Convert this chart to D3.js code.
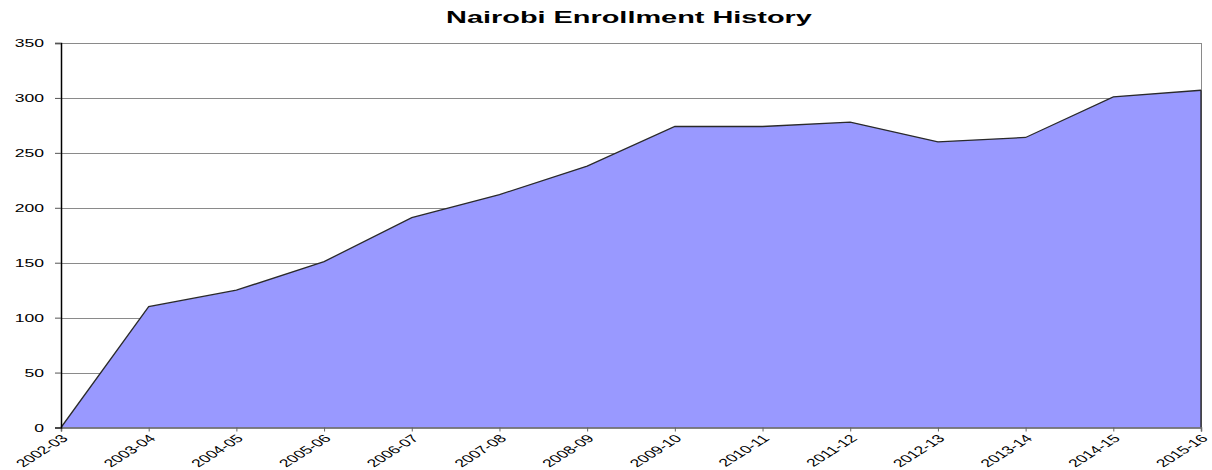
<!DOCTYPE html>
<html>
<head>
<meta charset="utf-8">
<script src="https://cdn.jsdelivr.net/npm/d3@7"></script>
<style>
  body { margin: 0; background: #fff; }
  text { font-family: "Liberation Sans", Arial, sans-serif; fill: #000; }
</style>
</head>
<body>
<div class="chart"></div>
<script>
// data
const years = ['2002-03','2003-04','2004-05','2005-06','2006-07','2007-08','2008-09',
	'2009-10','2010-11','2011-12','2012-13','2013-14','2014-15','2015-16'];
const enrollment = [0, 110, 125, 151, 191, 212, 238, 274, 274, 278, 260, 264, 301, 307];
const yTicks = [0, 50, 100, 150, 200, 250, 300, 350];

const data = years.map((y, i) => ({year: y, value: enrollment[i]}));

const width = 1212, height = 470;
const margin = ({top: 43, right: 11, bottom: 43, left: 61});
const sx = 1.6; // the reference text is stretched wide

const svg = d3.select(".chart")
	.append("svg")
	.attr("width", width)
	.attr("height", height);

const xScale = d3.scalePoint()
	.domain(years)
	.range([margin.left, width - margin.right]);

const yScale = d3.scaleLinear()
	.domain([0, 350])
	.range([height - margin.bottom + 0.5, margin.top]);

// gridlines
svg.append("g")
	.selectAll("line")
	.data(yTicks.filter(d => d > 0))
	.enter()
	.append("line")
	.attr("x1", margin.left)
	.attr("x2", width - margin.right)
	.attr("y1", d => Math.round(yScale(d)) + 0.5)
	.attr("y2", d => Math.round(yScale(d)) + 0.5)
	.attr("stroke", "#8a8a8a")
	.attr("stroke-width", 1);

// right border
svg.append("line")
	.attr("x1", width - margin.right + 0.5)
	.attr("x2", width - margin.right + 0.5)
	.attr("y1", yScale(350))
	.attr("y2", yScale(0))
	.attr("stroke", "#8a8a8a");

// area
const area = d3.area()
	.x(d => xScale(d.year))
	.y0(yScale(0))
	.y1(d => yScale(d.value));

svg.append("path")
	.datum(data)
	.attr("d", area)
	.attr("fill", "#9999ff");

const line = d3.line()
	.x(d => xScale(d.year))
	.y(d => yScale(d.value));

svg.append("path")
	.datum(data)
	.attr("d", line)
	.attr("fill", "none")
	.attr("stroke", "#2a2a2a")
	.attr("stroke-width", 1.3);

// right edge of the area
svg.append("line")
	.attr("x1", xScale(years[years.length - 1]))
	.attr("x2", xScale(years[years.length - 1]))
	.attr("y1", yScale(enrollment[enrollment.length - 1]))
	.attr("y2", yScale(0))
	.attr("stroke", "#222")
	.attr("stroke-width", 1.3);

// x axis
const xAxis = d3.axisBottom(xScale).tickSize(4).tickPadding(0);
const gx = svg.append("g")
	.attr("class", "axis x-axis")
	.attr("transform", `translate(0, ${yScale(0)})`)
	.call(xAxis);
gx.select(".domain").attr("stroke", "#5a5a5a").attr("stroke-width", 1.5);
gx.selectAll(".tick line").attr("stroke", "#666");
gx.selectAll(".tick text")
	.attr("font-size", "11px")
	.attr("font-family", "Liberation Sans, Arial, sans-serif")
	.attr("fill", "#000")
	.attr("text-anchor", "end")
	.attr("y", 0)
	.attr("dy", "0.35em")
	.attr("transform", `translate(3, 9) scale(${sx}, 1) rotate(-45)`);

// y axis
const yAxis = d3.axisLeft(yScale).tickValues(yTicks).tickSize(6).tickPadding(0);
const gy = svg.append("g")
	.attr("class", "axis y-axis")
	.attr("transform", `translate(${margin.left}, 0)`)
	.call(yAxis);
gy.select(".domain").attr("stroke", "#000").attr("stroke-width", 1.5);
gy.selectAll(".tick line").attr("stroke", "#555");
gy.selectAll(".tick text")
	.attr("font-size", "11px")
	.attr("font-family", "Liberation Sans, Arial, sans-serif")
	.attr("fill", "#000")
	.attr("x", 0)
	.attr("transform", `translate(-17, 0) scale(${sx}, 1)`);

// title
svg.append("text")
	.attr("transform", `translate(629, 23) scale(1.7, 1)`)
	.attr("text-anchor", "middle")
	.attr("font-size", "17px")
	.attr("font-weight", "bold")
	.text("Nairobi Enrollment History");
</script>
</body>
</html>
